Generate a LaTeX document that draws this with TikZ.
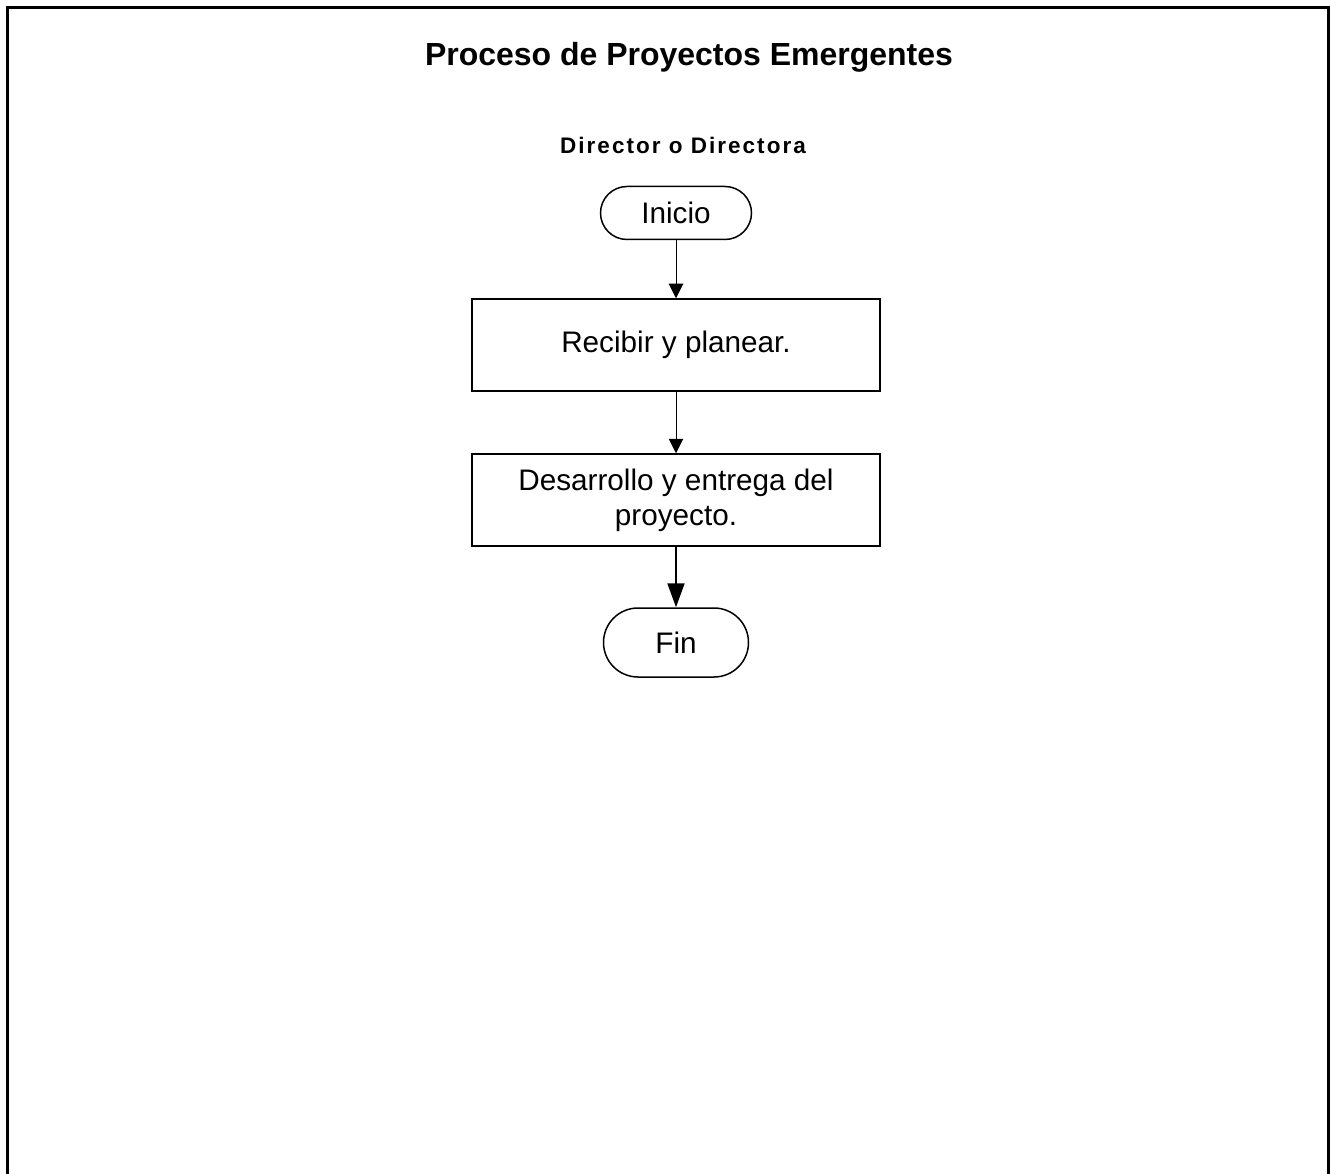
\documentclass[tikz,border=0pt]{standalone}
\usepackage{fontspec}
\setmainfont{Liberation Sans}
\usepackage{tikz}
\usetikzlibrary{arrows.meta, positioning}

\begin{document}
\begin{tikzpicture}[
  x=0.2mm, y=-0.2mm,
  term/.style={draw, line width=0.3mm, rounded corners=5.3mm,
               minimum width=30.2mm, minimum height=10.6mm, inner sep=0pt,
               font=\fontsize{16.9}{19}\selectfont},
  proc/.style={draw, line width=0.3mm, minimum width=81.6mm,
               minimum height=18.4mm, align=center, inner sep=0pt,
               font=\fontsize{16.9}{20}\selectfont},
  arr/.style={-{Triangle[length=2.9mm, width=2.9mm]}, line width=0.2mm},
  bigarr/.style={-{Triangle[length=4.8mm, width=3.4mm]}, line width=0.4mm},
]
  \useasboundingbox (0,0) rectangle (1332,1174);

  % Frame
  \draw[line width=0.6mm] (7.5,1174) -- (7.5,7.5) -- (1328.5,7.5) -- (1328.5,1174);

  % Headings
  \node[font=\bfseries\fontsize{18.2}{21}\selectfont] (title) at (689,57)
        {Proceso de Proyectos Emergentes};
  \node[font=\bfseries\fontsize{12.8}{15}\selectfont\addfontfeature{LetterSpace=9}]
        (lane) at (683,145) {Director o Directora};

  % Flow
  \node[term] (inicio) at (676,213) {Inicio};
  \node[proc, below=11.6mm of inicio] (recibir) {Recibir y planear.};
  \node[proc, below=12.3mm of recibir] (desarrollo)
        {Desarrollo y entrega del\\proyecto.};
  \node[term, below=12.1mm of desarrollo, minimum width=29mm,
        minimum height=13.8mm, rounded corners=6.9mm] (fin) {Fin};

  \draw[arr] (inicio) -- (recibir);
  \draw[arr] (recibir) -- (desarrollo);
  \draw[bigarr] (desarrollo) -- (fin);
\end{tikzpicture}
\end{document}
